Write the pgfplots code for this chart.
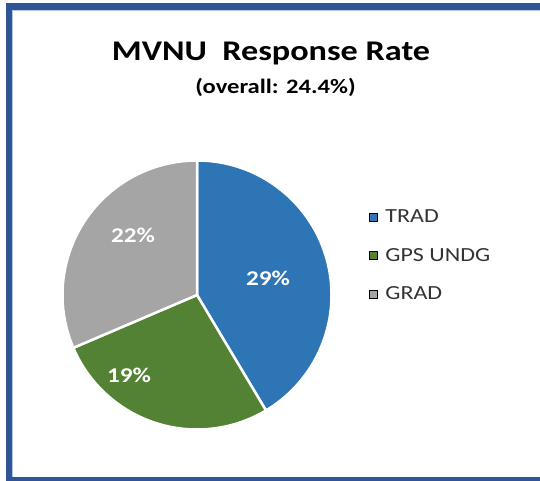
\documentclass[border=0pt]{standalone}
\usepackage{pgfplots}
\pgfplotsset{compat=1.18}
\usepackage{pgfplotstable}
\usepackage{fontspec}
\setmainfont{Carlito}[FakeStretch=1.2]
\definecolor{trad}{HTML}{2E75B6}
\definecolor{gps}{HTML}{548235}
\definecolor{grad}{HTML}{A5A5A5}
\definecolor{frameblue}{HTML}{2F5597}
\definecolor{framelight}{HTML}{B4C7E7}
\definecolor{legtext}{HTML}{333333}

% response rates by group (%)
\pgfplotstableread{
value
29
19
22
}\piedata

\begin{document}
\pgfplotstablegetelem{0}{value}\of\piedata \edef\vA{\pgfplotsretval}%
\pgfplotstablegetelem{1}{value}\of\piedata \edef\vB{\pgfplotsretval}%
\pgfplotstablegetelem{2}{value}\of\piedata \edef\vC{\pgfplotsretval}%
\pgfmathsetmacro\tot{\vA+\vB+\vC}%
\pgfmathsetmacro\aA{90}%
\pgfmathsetmacro\aB{\aA-360*\vA/\tot}%
\pgfmathsetmacro\aC{\aB-360*\vB/\tot}%
\pgfmathsetmacro\aD{\aC-360*\vC/\tot}%
\begin{tikzpicture}
\begin{axis}[
  hide axis, scale only axis,
  width=540pt, height=480pt,
  xmin=0, xmax=540, ymin=0, ymax=480,
  clip=false, at={(0,0)}, anchor=south west,
  legend cell align=left,
  legend image code/.code={\fill[#1] (0pt,-4pt) rectangle (8pt,4pt);},
  legend style={at={(axis cs:369,270)}, anchor=north west, draw=none, fill=none,
    inner sep=0pt, outer sep=0pt,
    font=\fontsize{20}{24}\selectfont, text=legtext,
    nodes={inner sep=0pt},
    row sep=24pt,
    /tikz/every odd column/.append style={column sep=8pt}},
]
% frame
\draw[frameblue, line width=6.5pt] (axis cs:570,473.5) -- (axis cs:9,473.5) -- (axis cs:9,-0.5) -- (axis cs:570,-0.5);
\draw[framelight, line width=0.8pt] (axis cs:570,469.5) -- (axis cs:12.6,469.5) -- (axis cs:12.6,3);
% pie sectors
\filldraw[fill=trad, draw=white, line width=2.5pt] (axis cs:197,185) -- ++(\aA:134.5pt) arc[start angle=\aA, end angle=\aB, radius=134.5pt] -- cycle;
\filldraw[fill=gps, draw=white, line width=2.5pt] (axis cs:197,185) -- ++(\aB:134.5pt) arc[start angle=\aB, end angle=\aC, radius=134.5pt] -- cycle;
\filldraw[fill=grad, draw=white, line width=2.5pt] (axis cs:197,185) -- ++(\aC:134.5pt) arc[start angle=\aC, end angle=\aD, radius=134.5pt] -- cycle;
% data labels
\node[text=white, font=\fontsize{21}{25}\bfseries\selectfont] at (axis cs:268,202) {29\%};
\node[text=white, font=\fontsize{21}{25}\bfseries\selectfont] at (axis cs:129,105) {19\%};
\node[text=white, font=\fontsize{21}{25}\bfseries\selectfont] at (axis cs:133,245) {22\%};
% titles
\node[anchor=base, font=\fontsize{28.5}{34}\bfseries\selectfont] at (axis cs:271,419) {MVNU\ \ Response Rate};
\node[anchor=base, font=\fontsize{20.5}{25}\bfseries\selectfont] at (axis cs:275.5,386) {(overall: 24.4\%)};
% legend
\addlegendimage{fill=trad}
\addlegendentry{TRAD}
\addlegendimage{fill=gps}
\addlegendentry{GPS UNDG}
\addlegendimage{fill=grad}
\addlegendentry{GRAD}
\end{axis}
\pgfresetboundingbox
\useasboundingbox (0,0) rectangle (540pt,480pt);
\end{tikzpicture}
\end{document}
